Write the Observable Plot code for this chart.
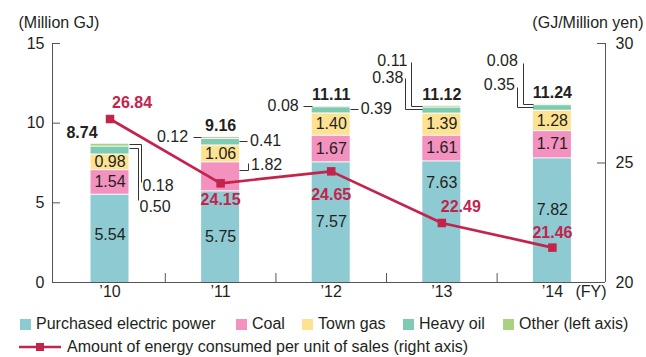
<!DOCTYPE html>
<html>
<head>
<meta charset="utf-8">
<script src="https://cdn.jsdelivr.net/npm/d3@7"></script>
<script src="https://cdn.jsdelivr.net/npm/@observablehq/plot@0.6"></script>
<style>
  body { margin: 0; background: #fff; font-family: "Liberation Sans", Arial, Helvetica, sans-serif; color: #231f20; }
  #chart svg { display: block; }
  .legend { position: relative; width: 646px; height: 51px; }
  .item { position: absolute; display: flex; align-items: center; font-size: 16px; line-height: 16px; white-space: nowrap; }
  .sw { display: inline-block; width: 11px; height: 11px; margin-right: 5px; }
  .ln { margin-right: 6px; }
</style>
</head>
<body>
<div id="chart"></div>
<div class="legend" id="legend"></div>
<script>
// Fiscal years and energy consumption by source (million GJ, left axis)
const years = ["’10", "’11", "’12", "’13", "’14"];
const electric = [5.54, 5.75, 7.57, 7.63, 7.82];
const coal = [1.54, 1.82, 1.67, 1.61, 1.71];
const townGas = [0.98, 1.06, 1.40, 1.39, 1.28];
const heavyOil = [0.50, 0.41, 0.39, 0.38, 0.35];
const other = [0.18, 0.12, 0.08, 0.11, 0.08];
const totals = [8.74, 9.16, 11.11, 11.12, 11.24];

// Energy consumed per unit of sales (GJ/million yen, right axis)
const intensity = [26.84, 24.15, 24.65, 22.49, 21.46];

// Axis ticks
const leftTicks = [0, 5, 10, 15];
const rightTicks = [20, 25, 30];

const seriesNames = ["Purchased electric power", "Coal", "Town gas", "Heavy oil", "Other (left axis)"];
const lineName = "Amount of energy consumed per unit of sales (right axis)";

// ---- styling and layout ----
const colors = ["#8dcad1", "#f391bf", "#fde391", "#7fcbb1", "#a9d182"];
const lineColor = "#c4234c";
const ink = "#231f20";
const axisColor = "#555";
const font = 16;
const fontFamily = "Liberation Sans, Arial, Helvetica, sans-serif";

const W = 646, H = 306;
const margin = {top: 43, right: 41, bottom: 24, left: 52};
const frameW = W - margin.left - margin.right;
const frameH = H - margin.top - margin.bottom;
const xDomain = [-0.52, 4.48];
const yMax = 15;
const halfBar = 19 / (frameW / (xDomain[1] - xDomain[0])); // bar half-width in index units

// right-axis values expressed on the left-axis scale
const toLeft = v => (v - rightTicks[0]) / (rightTicks[rightTicks.length - 1] - rightTicks[0]) * yMax;

// stacked segments
const series = [electric, coal, townGas, heavyOil, other];
const segs = [];
years.forEach((_, i) => {
  let base = 0;
  series.forEach((arr, s) => {
    segs.push({i, s, y1: base, y2: base + arr[i], v: arr[i]});
    base += arr[i];
  });
});
const segOf = (i, s) => segs.find(d => d.i === i && d.s === s);
const mid = d => (d.y1 + d.y2) / 2;
const fmt = v => v.toFixed(2);

// values written inside segments (electric, coal, town gas); a few are lifted clear of the line
const inside = segs.filter(d => d.s <= 2 && !(d.i === 1 && d.s === 1));
const insideShift = {"0-0": -3, "3-0": -39, "4-0": -10};
const shiftOf = d => insideShift[`${d.i}-${d.s}`] || 0;

// leader-line labels for thin segments: pixel path from the bar edge at the segment's middle
const leaderSpecs = [
  {i: 0, s: 4, side: "right", path: [[0, 0], [12, 0], [12, 38]], label: [14, 42, "start"]},
  {i: 0, s: 3, side: "right", path: [[0, -2], [9, -2], [9, 50]], label: [11, 57, "start"]},
  {i: 1, s: 4, side: "left", path: [[0, 0], [-8, 0]], label: [-13, 0, "end"]},
  {i: 1, s: 3, side: "right", path: [[0, 0], [8, 0]], label: [11, 0, "start"]},
  {i: 1, s: 1, side: "right", path: [[0, -6], [9, -6], [9, -13]], label: [12, -11, "start"]},
  {i: 2, s: 4, side: "left", path: [[0, 0], [-9, 0]], label: [-13, 0, "end"]},
  {i: 2, s: 3, side: "right", path: [[0, 0], [8, 0]], label: [11, 0, "start"]},
  {i: 3, s: 4, side: "left", path: [[0, 0], [-11, 0], [-11, -44]], label: [-15, -45, "end"]},
  {i: 3, s: 3, side: "left", path: [[0, -1], [-17, -1], [-17, -32]], label: [-19, -32, "end"]},
  {i: 4, s: 4, side: "left", path: [[0, 0], [-10, 0], [-10, -41]], label: [-15, -43, "end"]},
  {i: 4, s: 3, side: "left", path: [[0, 0], [-16, 0], [-16, -20]], label: [-18, -22, "end"]}
];

// offsets of the intensity labels from their markers
const lineLabelOffsets = [[22, -16], [0, 17], [0, 24], [19, -16], [0, -15]];

// draws the elbow leaders and their values, positioned through the plot's scales
function leaders(index, scales) {
  const g = d3.create("svg:g")
    .attr("font-family", fontFamily)
    .attr("font-size", font);
  for (const L of leaderSpecs) {
    const seg = segOf(L.i, L.s);
    const edge = L.side === "right" ? L.i + halfBar : L.i - halfBar;
    const x0 = scales.x(edge);
    const y0 = scales.y(mid(seg));
    const pts = L.path.map(([dx, dy]) => [Math.round(x0 + dx) + 0.5, Math.round(y0 + dy) + 0.5]);
    g.append("path")
      .attr("d", "M" + pts.map(p => p.join(",")).join("L"))
      .attr("fill", "none")
      .attr("stroke", "#333")
      .attr("stroke-width", 1);
    g.append("text")
      .attr("x", x0 + L.label[0])
      .attr("y", y0 + L.label[1])
      .attr("dy", "0.32em")
      .attr("text-anchor", L.label[2])
      .attr("fill", ink)
      .text(fmt(seg.v));
  }
  return g.node();
}

const idx = years.map((_, i) => i);
const txt = {fontSize: font, fill: ink};

const marks = [
  // stacked bars
  Plot.rectY(segs, {
    x1: d => d.i - halfBar, x2: d => d.i + halfBar,
    y1: "y1", y2: "y2", fill: d => colors[d.s], insetTop: 1
  }),
  // axis lines
  Plot.ruleY([0], {stroke: axisColor}),
  Plot.ruleX(xDomain, {stroke: axisColor}),
  // inward ticks
  Plot.ruleY(leftTicks.slice(1), {stroke: axisColor, insetRight: frameW - 8}),
  Plot.ruleY(rightTicks.slice(1).map(toLeft), {stroke: axisColor, insetLeft: frameW - 8}),
  Plot.ruleX(idx.slice(1).map(i => i - 0.5), {stroke: axisColor, insetTop: frameH - 9}),
  // tick labels
  Plot.text(leftTicks, {y: d => d, frameAnchor: "left", dx: -8, textAnchor: "end", lineAnchor: "middle", ...txt}),
  Plot.text(rightTicks, {y: d => toLeft(d), frameAnchor: "right", dx: 10, textAnchor: "start", lineAnchor: "middle", ...txt}),
  Plot.text(years, {x: (d, i) => i, frameAnchor: "bottom", dy: 3, lineAnchor: "top", ...txt}),
  Plot.text(["(FY)"], {frameAnchor: "bottom-right", dx: 1, dy: 3, lineAnchor: "top", textAnchor: "end", ...txt}),
  // axis titles
  Plot.text(["(Million GJ)"], {frameAnchor: "top-left", dx: -34, dy: -21, textAnchor: "start", lineAnchor: "middle", ...txt}),
  Plot.text(["(GJ/Million yen)"], {frameAnchor: "top-right", dx: 38, dy: -21, textAnchor: "end", lineAnchor: "middle", ...txt}),
  // values inside segments
  Plot.text(inside.filter(d => !shiftOf(d)), {x: d => d.i, y: mid, text: d => fmt(d.v), ...txt}),
  ...inside.filter(d => shiftOf(d)).map(d => Plot.text([d], {x: d => d.i, y: mid, dy: shiftOf(d), text: d => fmt(d.v), ...txt})),
  // leader-line labels
  leaders,
  // totals
  Plot.text([totals[0]], {x: () => 0, y: d => d, dx: -28, dy: -10, text: fmt, fontWeight: "bold", ...txt}),
  Plot.text(totals.slice(1), {x: (d, i) => i + 1, y: d => d, dy: -10.5, text: fmt, fontWeight: "bold", ...txt}),
  // intensity line with square markers
  Plot.line(intensity, {x: (d, i) => i, y: d => toLeft(d), stroke: lineColor, strokeWidth: 2.7}),
  Plot.dot(intensity, {x: (d, i) => i, y: d => toLeft(d), symbol: "square", r: 4.8, fill: lineColor, stroke: "none"}),
  ...intensity.map((v, i) => Plot.text([v], {
    x: () => i, y: d => toLeft(d),
    dx: lineLabelOffsets[i][0], dy: lineLabelOffsets[i][1],
    text: fmt, fontSize: font, fontWeight: "bold", fill: lineColor
  }))
];

const chart = Plot.plot({
  width: W, height: H,
  marginTop: margin.top, marginRight: margin.right, marginBottom: margin.bottom, marginLeft: margin.left,
  x: {type: "linear", domain: xDomain, axis: null},
  y: {domain: [0, yMax], axis: null},
  color: {type: "identity"},
  style: {fontFamily, background: "#fff", color: ink, overflow: "visible"},
  marks
});
document.getElementById("chart").appendChild(chart);

// legend
const legend = document.getElementById("legend");
const legendLeft = [20, 236, 302, 403, 503];
seriesNames.forEach((name, s) => {
  const item = document.createElement("div");
  item.className = "item";
  item.style.left = legendLeft[s] + "px";
  item.style.top = "10px";
  item.innerHTML = `<span class="sw" style="background:${colors[s]}"></span><span>${name}</span>`;
  legend.appendChild(item);
});
const lineItem = document.createElement("div");
lineItem.className = "item";
lineItem.style.left = "19px";
lineItem.style.top = "33px";
lineItem.innerHTML =
  `<svg class="ln" width="42" height="16" viewBox="0 0 42 16">
     <line x1="0" y1="8" x2="42" y2="8" stroke="${lineColor}" stroke-width="2.7"/>
     <rect x="17" y="4" width="8" height="8" fill="${lineColor}"/>
   </svg><span>${lineName}</span>`;
legend.appendChild(lineItem);
</script>
</body>
</html>
